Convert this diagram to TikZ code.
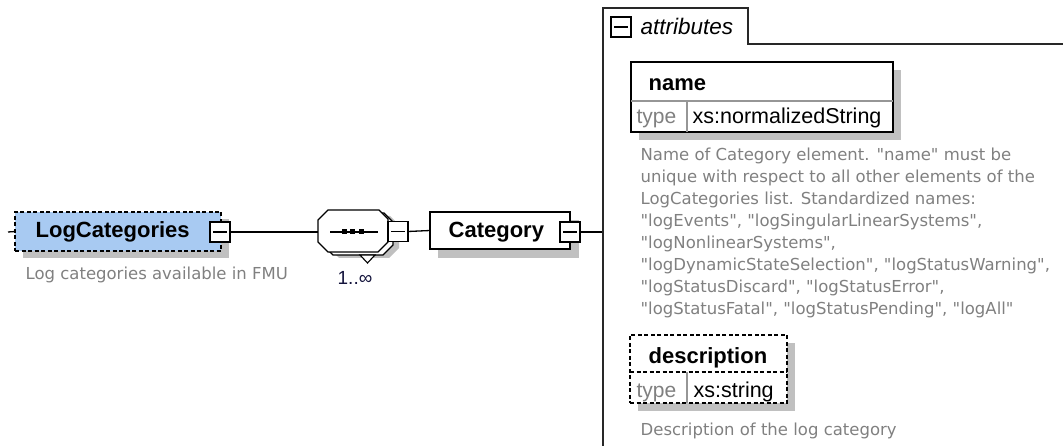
\documentclass[tikz,border=0pt]{standalone}
\usepackage{fontspec}
\setmainfont{Liberation Sans}
\newfontfamily\descfont{DejaVu Sans}
\definecolor{lcblue}{RGB}{168,202,242}
\definecolor{shadowgray}{RGB}{192,192,192}
\definecolor{desccol}{RGB}{128,128,128}
\definecolor{divcol}{RGB}{150,150,150}
\begin{document}
\begin{tikzpicture}[x=1pt,y=-1pt,line width=1.3pt,
  box/.style={draw=black,line width=1.3pt,inner sep=0pt,outer sep=0pt},
  dashbox/.style={box,dash pattern=on 4pt off 2.5pt},
  minusbox/.style={draw=black,fill=white,line width=1.2pt,minimum width=20pt,minimum height=20pt,inner sep=0pt,outer sep=0pt,
    path picture={\draw[line width=1.2pt] ([xshift=3pt]path picture bounding box.west) -- ([xshift=-3pt]path picture bounding box.east);}},
  elname/.style={font=\fontsize{22}{26}\selectfont\bfseries,anchor=base west,inner sep=0pt},
  typelbl/.style={font=\fontsize{21}{25}\selectfont,text=desccol,anchor=base west,inner sep=0pt},
  typeval/.style={font=\fontsize{21.5}{25}\selectfont,anchor=base west,inner sep=0pt},
  desc/.style={font=\descfont\fontsize{16.5}{22}\selectfont,text=desccol,anchor=base west,inner sep=0pt},
  conn/.style={draw=black,line width=1.3pt}
]
\useasboundingbox (0,0) rectangle (1063,446);
\def\octa#1#2#3#4{(#1+10,#3) -- (#2-9,#3) -- (#2,#3+9) -- (#2,#4-10) -- (#2-10,#4) -- (#1+10,#4) -- (#1,#4-10) -- (#1,#3+10) -- cycle}

% ---- LogCategories
\fill[shadowgray] (23,219) rectangle (229,258);
\node[dashbox,fill=lcblue,minimum width=206pt,minimum height=39pt] (logcat) at (118,231.5) {};
\node[elname] (logcattxt) at (35,238) {LogCategories};
\node[minusbox] (lcm) at (220,232) {};
\node[desc] (logcatdesc) at (25,280) {Log categories available in FMU};
\coordinate (stub) at (8,232);
\draw[conn] (stub) -- (logcat.west);

% ---- sequence compositor
\fill[shadowgray] \octa{329}{399}{216}{258};
\filldraw[fill=white,draw=black,line width=1.2pt] \octa{323}{393}{213}{255};
\filldraw[fill=white,draw=black,line width=1.2pt] \octa{318}{388}{210}{252};
\coordinate (seqL) at (318,232);
\coordinate (seqIn1) at (330,232);
\coordinate (seqIn2) at (378,232);
\draw[line width=1.2pt] (seqIn1) -- (seqIn2);
\foreach \dx in {344.5,352.5,361.5} \fill (\dx-2.5,229.5) rectangle (\dx+2.5,234.5);
\filldraw[fill=white,draw=black,line width=1.1pt] (360,255) -- (375,255) -- (367.5,263) -- cycle;
\node[minusbox] (seqm) at (398,231.5) {};
\node[font=\fontsize{19}{22}\selectfont,text={rgb,255:red,20;green,20;blue,60},anchor=base west,inner sep=0pt] (card) at (337,285) {1..∞};
\draw[conn] (lcm.east) -- (seqL);

% ---- Category
\fill[shadowgray] (438,220) rectangle (579,258);
\node[box,fill=white,minimum width=140pt,minimum height=37pt] (cat) at (500,230.5) {};
\node[elname] (cattxt) at (448,238) {Category};
\node[minusbox] (catm) at (570,232) {};
\draw[conn] (seqm.east) -- (cat.west);
\coordinate (attrL) at (603,232);
\draw[conn] (catm.east) -- (attrL);

% ---- attributes container
\coordinate (cb) at (603,446);
\coordinate (ct) at (603,8);
\coordinate (tr) at (748,8);
\coordinate (tb) at (748,44);
\coordinate (re) at (1063,44);
\draw[line width=1.6pt,draw={rgb,255:red,40;green,40;blue,40}] (cb) -- (ct) -- (tr) -- (tb) -- (re);
\node[minusbox] (attm) at (621,27) {};
\node[font=\fontsize{22.5}{26}\selectfont\itshape,anchor=base west,inner sep=0pt] (atttxt) at (640,35) {attributes};

% ---- name attribute
\fill[shadowgray] (639,70) rectangle (901,140);
\node[box,fill=white,minimum width=262pt,minimum height=70pt] (namebox) at (762,97) {};
\draw[line width=1.1pt,divcol] (631,101) -- (893,101);
\draw[line width=1.1pt,divcol] (687,101) -- (687,132);
\node[elname] (nametxt) at (648,91) {name};
\node[typelbl] (nametype) at (636,124) {type};
\node[typeval] (nameval) at (692,124) {xs:normalizedString};
\foreach \t [count=\i] in {%
  {Name of Category element. "name" must be},
  {unique with respect to all other elements of the},
  {LogCategories list. Standardized names:},
  {"logEvents", "logSingularLinearSystems",},
  {"logNonlinearSystems",},
  {"logDynamicStateSelection", "logStatusWarning",},
  {"logStatusDiscard", "logStatusError",},
  {"logStatusFatal", "logStatusPending", "logAll"}}
  \node[desc] (namedesc\i) at (640,{161+22*(\i-1)}) {\t};

% ---- description attribute
\fill[shadowgray] (638,343) rectangle (795,411);
\node[dashbox,fill=white,minimum width=157pt,minimum height=68pt] (descbox) at (708.5,369) {};
\draw[line width=1.1pt,dash pattern=on 4pt off 2.5pt] (630,372) -- (787,372);
\draw[line width=1.1pt,divcol] (687,372) -- (687,403);
\node[elname] (desctxt) at (648,363) {description};
\node[typelbl] (desctype) at (636,397) {type};
\node[typeval] (descval) at (693,397) {xs:string};
\node[desc] (descdesc) at (640,435) {Description of the log category};
\end{tikzpicture}
\end{document}
